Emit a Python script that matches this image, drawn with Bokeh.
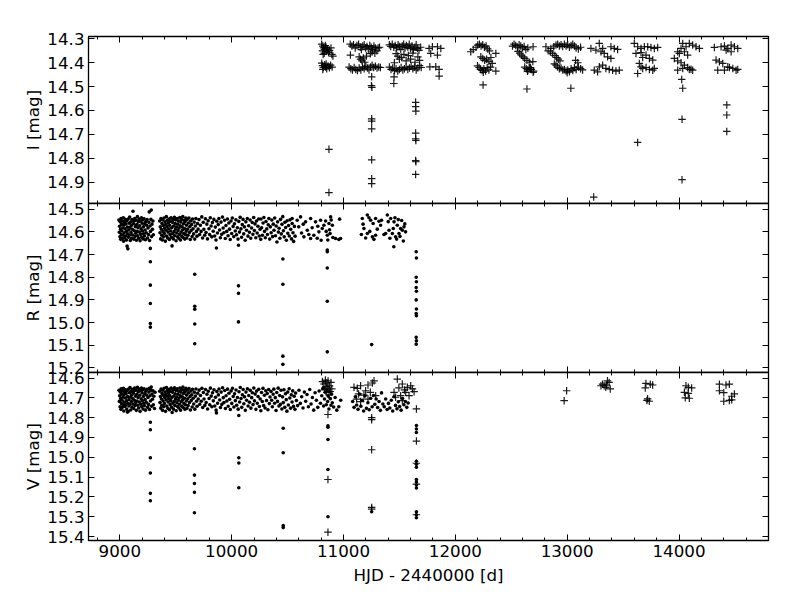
from bokeh.plotting import figure
from bokeh.layouts import column
from bokeh.models import Range1d, LinearAxis, FixedTicker, PrintfTickFormatter
from bokeh.embed import file_html
from bokeh.resources import INLINE

# ---------------- data ----------------
X_LABEL = "HJD - 2440000 [d]"
X_MAJOR = [9000, 10000, 11000, 12000, 13000, 14000]
X_MINOR = [8800, 9200, 9400, 9600, 9800, 10200, 10400, 10600, 10800, 11200, 11400, 11600, 11800,
           12200, 12400, 12600, 12800, 13200, 13400, 13600, 13800, 14200, 14400, 14600, 14800]
I_TICKS = [14.3, 14.4, 14.5, 14.6, 14.7, 14.8, 14.9]
R_TICKS = [14.5, 14.6, 14.7, 14.8, 14.9, 15.0, 15.1, 15.2]
V_TICKS = [14.6, 14.7, 14.8, 14.9, 15.0, 15.1, 15.2, 15.3, 15.4]

# I band (plus markers)
I_S1 = [(10805,14.322),(10815,14.330),(10822,14.338),(10830,14.345),(10812,14.350),(10838,14.328),(10845,14.335),
        (10850,14.352),(10858,14.342),(10866,14.358),(10875,14.348),(10888,14.338),(10896,14.365),(10905,14.372),
        (10828,14.360),(10818,14.365),(10805,14.402),(10812,14.412),(10820,14.420),(10832,14.408),(10840,14.418),
        (10850,14.425),(10862,14.414),(10874,14.421),(10885,14.410),(10898,14.418),(10815,14.428),(10845,14.405),
        (10870,14.763),(10870,14.944)]
I_S2 = [(11060,14.322),(11075,14.330),(11090,14.325),(11105,14.338),(11120,14.328),(11135,14.322),(11150,14.335),
        (11160,14.345),(11172,14.330),(11185,14.325),(11198,14.338),(11210,14.332),(11222,14.342),(11235,14.328),
        (11248,14.335),(11260,14.345),(11272,14.330),(11285,14.338),(11298,14.350),(11310,14.338),(11322,14.335),
        (11255,14.355),(11240,14.362),(11280,14.360),(11062,14.368),(11140,14.375),(11152,14.385),(11165,14.392),
        (11178,14.380),(11190,14.398),(11205,14.372),(11050,14.418),(11065,14.425),(11080,14.430),(11095,14.420),
        (11110,14.428),(11125,14.433),(11140,14.422),(11155,14.430),(11170,14.418),(11185,14.425),(11200,14.415),
        (11215,14.422),(11228,14.430),(11242,14.418),(11256,14.410),(11270,14.420),(11285,14.415),(11300,14.422),
        (11315,14.418),(11330,14.420),(11252,14.459),(11250,14.496),(11254,14.503),(11252,14.635),(11252,14.645),
        (11252,14.677),(11252,14.807),(11252,14.886),(11252,14.907)]
I_S3 = [(11410,14.325),(11422,14.332),(11436,14.322),(11450,14.335),(11462,14.328),(11475,14.338),(11488,14.325),
        (11500,14.332),(11512,14.345),(11525,14.330),(11538,14.322),(11550,14.338),(11562,14.328),(11575,14.335),
        (11588,14.322),(11600,14.340),(11612,14.330),(11625,14.345),(11638,14.335),(11650,14.325),(11662,14.340),
        (11675,14.348),(11690,14.335),(11470,14.362),(11485,14.372),(11500,14.385),(11520,14.378),(11540,14.365),
        (11560,14.392),(11580,14.370),(11600,14.385),(11620,14.360),(11640,14.398),(11665,14.375),(11680,14.390),
        (11455,14.400),(11410,14.418),(11425,14.428),(11440,14.422),(11455,14.432),(11470,14.425),(11485,14.435),
        (11500,14.428),(11515,14.420),(11530,14.430),(11545,14.425),(11560,14.418),(11575,14.428),(11590,14.422),
        (11605,14.415),(11620,14.425),(11635,14.418),(11650,14.430),(11665,14.422),(11680,14.412),(11695,14.420),
        (11452,14.459),(11450,14.487),(11645,14.566),(11645,14.584),(11647,14.603),(11645,14.695),(11645,14.719),
        (11647,14.726),(11645,14.810),(11647,14.815),(11645,14.868)]
I_S4 = [(11765,14.340),(11795,14.333),(11840,14.333),(11870,14.340),(11780,14.361),(11840,14.368),(11772,14.417),
        (11825,14.417),(11855,14.428),(11855,14.456)]
I_S5 = [(12138,14.354),(12160,14.345),(12185,14.335),(12200,14.326),(12215,14.322),(12230,14.330),(12245,14.325),
        (12260,14.335),(12275,14.330),(12290,14.342),(12305,14.350),(12362,14.361),(12228,14.375),(12245,14.382),
        (12262,14.390),(12280,14.385),(12300,14.395),(12318,14.378),(12330,14.403),(12198,14.413),(12212,14.420),
        (12225,14.428),(12240,14.432),(12255,14.425),(12270,14.435),(12285,14.420),(12300,14.430),(12315,14.418),
        (12362,14.435),(12250,14.440),(12248,14.493)]
I_S6 = [(12511,14.330),(12525,14.322),(12540,14.328),(12555,14.335),(12570,14.325),(12585,14.330),(12600,14.338),
        (12615,14.332),(12630,14.345),(12648,14.338),(12560,14.352),(12575,14.360),(12590,14.368),(12605,14.375),
        (12620,14.382),(12640,14.390),(12660,14.398),(12695,14.333),(12693,14.395),(12695,14.440),(12620,14.418),
        (12635,14.425),(12650,14.430),(12665,14.422),(12680,14.428),(12700,14.435),(12645,14.436),(12672,14.420),
        (12640,14.510)]
I_S7 = [(12830,14.350),(12854,14.340),(12880,14.333),(12900,14.326),(12915,14.322),(12930,14.330),(12945,14.325),
        (12960,14.332),(12975,14.322),(12990,14.330),(13005,14.325),(13020,14.335),(13035,14.328),(13050,14.322),
        (13065,14.330),(13080,14.338),(13100,14.342),(13120,14.335),(12810,14.333),(12850,14.355),(12870,14.362),
        (12890,14.370),(12905,14.378),(12920,14.385),(12935,14.392),(12885,14.405),(13095,14.400),(13075,14.390),
        (12900,14.410),(12915,14.418),(12930,14.425),(12945,14.422),(12960,14.430),(12975,14.428),(12990,14.435),
        (13005,14.430),(13020,14.438),(13035,14.425),(13050,14.433),(13065,14.420),(13080,14.428),(13100,14.418),
        (13120,14.425),(13138,14.430),(13000,14.442),(13033,14.507)]
I_S8 = [(13212,14.340),(13257,14.347),(13287,14.319),(13302,14.354),(13317,14.340),(13391,14.333),(13421,14.340),
        (13451,14.344),(13331,14.361),(13361,14.375),(13391,14.382),(13242,14.431),(13287,14.417),(13317,14.410),
        (13346,14.424),(13376,14.428),(13406,14.431),(13436,14.435),(13466,14.431),(13272,14.438),(13237,14.963)]
I_S9 = [(13600,14.319),(13630,14.333),(13660,14.340),(13690,14.333),(13720,14.333),(13749,14.336),(13779,14.340),
        (13809,14.336),(13615,14.361),(13660,14.358),(13705,14.368),(13735,14.382),(13765,14.389),(13675,14.378),
        (13645,14.403),(13660,14.417),(13675,14.424),(13705,14.420),(13735,14.428),(13765,14.431),(13779,14.424),
        (13630,14.445),(13630,14.734)]
I_S10 = [(13988,14.354),(14018,14.340),(14033,14.319),(14063,14.333),(14092,14.319),(14122,14.326),(14152,14.333),
         (14182,14.340),(14003,14.361),(14048,14.354),(14077,14.368),(13958,14.382),(13988,14.392),(14018,14.400),
         (14048,14.410),(14077,14.420),(14107,14.427),(13988,14.431),(14033,14.424),(14092,14.428),(14122,14.431),
         (14024,14.470),(14033,14.507),(14027,14.637),(14027,14.890)]
I_S11 = [(14316,14.336),(14376,14.333),(14406,14.330),(14436,14.340),(14466,14.326),(14495,14.333),(14525,14.340),
         (14421,14.347),(14466,14.354),(14331,14.389),(14361,14.396),(14391,14.403),(14436,14.417),(14346,14.431),
         (14406,14.431),(14451,14.420),(14481,14.424),(14510,14.431),(14525,14.428),(14427,14.577),(14427,14.619),
         (14427,14.688)]

# R band (dots)
R_B1 = [(8992,14.548),(8995,14.602),(8998,14.575),(9001,14.622),(9003,14.556),(9006,14.589),(9008,14.633),(9011,14.541),
        (9013,14.612),(9016,14.567),(9018,14.596),(9021,14.629),(9023,14.552),(9026,14.583),(9029,14.615),(9031,14.538),
        (9034,14.641),(9036,14.571),(9039,14.604),(9042,14.559),(9044,14.627),(9047,14.586),(9050,14.545),(9052,14.618),
        (9055,14.565),(9058,14.598),(9060,14.636),(9063,14.551),(9065,14.663),(9068,14.579),(9070,14.609),(9072,14.675),
        (9075,14.543),(9078,14.624),(9080,14.592),(9083,14.562),(9086,14.615),(9088,14.535),(9091,14.581),(9094,14.638),
        (9097,14.557),(9100,14.603),(9103,14.572),(9106,14.628),(9109,14.546),(9112,14.589),(9115,14.614),(9118,14.509),
        (9121,14.564),(9124,14.632),(9127,14.553),(9130,14.595),(9133,14.541),(9136,14.621),(9139,14.577),(9142,14.606),
        (9145,14.549),(9148,14.637),(9151,14.568),(9154,14.598),(9157,14.533),(9160,14.617),(9163,14.582),(9166,14.556),
        (9169,14.628),(9172,14.544),(9175,14.601),(9178,14.573),(9181,14.639),(9184,14.552),(9187,14.611),(9190,14.587),
        (9193,14.538),(9196,14.624),(9199,14.562),(9202,14.596),(9205,14.548),(9208,14.631),(9211,14.578),(9214,14.609),
        (9217,14.542),(9220,14.618),(9223,14.565),(9226,14.592),(9229,14.635),(9232,14.555),(9236,14.604),(9240,14.571),
        (9244,14.546),(9248,14.627),(9252,14.583),(9256,14.612),(9260,14.558),(9263,14.512),(9266,14.638),(9270,14.574),
        (9274,14.598),(9278,14.545),(9281,14.504),(9284,14.621),(9288,14.566),(9292,14.589),(9296,14.552),(9300,14.613)]
R_B2 = [(9356,14.552),(9359,14.604),(9362,14.578),(9365,14.631),(9368,14.541),(9371,14.589),(9374,14.615),(9377,14.563),
        (9380,14.636),(9383,14.547),(9386,14.598),(9389,14.572),(9392,14.622),(9395,14.539),(9398,14.607),(9401,14.584),
        (9404,14.556),(9407,14.641),(9410,14.568),(9413,14.593),(9416,14.533),(9419,14.618),(9422,14.576),(9425,14.549),
        (9428,14.627),(9431,14.601),(9434,14.561),(9437,14.586),(9440,14.543),(9443,14.634),(9446,14.571),(9449,14.612),
        (9452,14.553),(9455,14.596),(9458,14.538),(9461,14.624),(9464,14.582),(9467,14.662),(9470,14.558),(9473,14.608),
        (9476,14.545),(9479,14.631),(9482,14.574),(9485,14.599),(9488,14.536),(9491,14.617),(9494,14.563),(9497,14.588),
        (9500,14.548),(9503,14.639),(9506,14.579),(9509,14.605),(9512,14.541),(9515,14.622),(9518,14.566),(9521,14.594),
        (9524,14.552),(9527,14.628),(9530,14.583),(9533,14.611),(9536,14.537),(9539,14.573),(9542,14.636),(9545,14.557),
        (9548,14.601),(9551,14.545),(9554,14.619),(9557,14.578),(9560,14.592),(9563,14.533),(9566,14.625),(9569,14.564),
        (9572,14.607),(9575,14.549),(9578,14.585),(9581,14.632),(9584,14.556),(9587,14.612),(9590,14.539),(9593,14.597),
        (9596,14.571),(9599,14.627),(9602,14.546),(9606,14.588),(9610,14.615),(9614,14.561),(9618,14.539),(9622,14.603),
        (9626,14.577),(9630,14.634),(9634,14.552),(9638,14.594),(9642,14.568),(9646,14.621),(9650,14.543),(9655,14.586),
        (9660,14.609),(9665,14.557),(9670,14.632),(9675,14.574),(9680,14.541),(9685,14.598),(9690,14.619),(9695,14.563),
        (9700,14.588)]
R_B3 = [(9708,14.546),(9714,14.612),(9720,14.571),(9727,14.598),(9733,14.534),(9740,14.627),(9746,14.558),(9752,14.589),
        (9759,14.615),(9765,14.542),(9771,14.603),(9778,14.566),(9784,14.631),(9790,14.551),(9797,14.586),(9803,14.612),
        (9809,14.538),(9816,14.574),(9822,14.622),(9828,14.559),(9835,14.597),(9841,14.545),(9848,14.618),(9854,14.579),
        (9860,14.636),(9864,14.671),(9867,14.553),(9873,14.605),(9880,14.568),(9886,14.541),(9892,14.592),(9899,14.626),
        (9905,14.557),(9911,14.611),(9918,14.535),(9924,14.583),(9930,14.604),(9937,14.549),(9943,14.629),(9949,14.572),
        (9956,14.598),(9962,14.543),(9968,14.617),(9975,14.561),(9981,14.588),(9987,14.634),(9994,14.552),(10000,14.607),
        (10006,14.539),(10013,14.576),(10019,14.621),(10025,14.564),(10032,14.596),(10038,14.547),(10044,14.613),
        (10051,14.582),(10057,14.632),(10061,14.659),(10064,14.554),(10070,14.601),(10076,14.536),(10083,14.587),
        (10089,14.624),(10095,14.568),(10102,14.545),(10108,14.609),(10114,14.578),(10121,14.637),(10127,14.556),
        (10133,14.593),(10140,14.541),(10146,14.619),(10152,14.573),(10159,14.602),(10165,14.548),(10171,14.628),
        (10178,14.583),(10184,14.559),(10190,14.611),(10197,14.537),(10203,14.594),(10209,14.565),(10216,14.626),
        (10222,14.552),(10228,14.605),(10235,14.575),(10241,14.543),(10247,14.618),(10254,14.589),(10260,14.633)]
R_B4 = [(10262,14.543),(10268,14.582),(10275,14.615),(10281,14.561),(10288,14.537),(10294,14.598),(10301,14.626),
        (10307,14.554),(10314,14.587),(10320,14.612),(10327,14.569),(10333,14.541),(10340,14.632),(10346,14.578),
        (10353,14.604),(10359,14.548),(10366,14.621),(10372,14.566),(10379,14.593),(10385,14.539),(10392,14.617),
        (10398,14.574),(10405,14.645),(10411,14.556),(10418,14.601),(10424,14.584),(10431,14.628),(10437,14.545),
        (10444,14.609),(10450,14.567),(10457,14.533),(10463,14.595),(10470,14.622),(10476,14.558),(10483,14.581),
        (10489,14.637),(10496,14.551),(10502,14.606),(10509,14.572),(10515,14.618),(10522,14.547),(10528,14.589),
        (10535,14.631),(10541,14.563),(10548,14.604),(10554,14.642),(10561,14.576),(10567,14.619)]
R_B5 = [(10541,14.541),(10586,14.549),(10616,14.534),(10661,14.556),(10706,14.541),(10750,14.556),(10795,14.549),
        (10825,14.571),(10676,14.593),(10646,14.622),(10706,14.629),(10735,14.615),(10780,14.600),(10810,14.585),
        (10855,14.615),(10885,14.534),(10900,14.571),(10929,14.629),(10965,14.544),(10974,14.629),(10600,14.578),
        (10625,14.605),(10640,14.566),(10690,14.612),(10720,14.582),(10765,14.628),(10770,14.575),(10800,14.637),
        (10840,14.552),(10845,14.598),(10860,14.636),(10870,14.563),(10875,14.591),(10880,14.607),(10890,14.548),
        (10905,14.625),(10958,14.634)]
R_B6 = [(11168,14.541),(11213,14.526),(11243,14.549),(11287,14.541),(11317,14.553),(11183,14.585),(11213,14.607),
        (11258,14.622),(11287,14.615),(11392,14.526),(11422,14.541),(11452,14.556),(11481,14.571),(11511,14.585),
        (11526,14.593),(11407,14.593),(11437,14.607),(11466,14.622),(11496,14.607),(11541,14.578),(11377,14.607),
        (11332,14.571),(11160,14.612),(11175,14.566),(11198,14.627),(11228,14.538),(11235,14.598),(11265,14.563),
        (11272,14.633),(11302,14.588),(11340,14.549),(11362,14.612),(11400,14.555),(11415,14.628),(11445,14.585),
        (11460,14.538),(11475,14.632),(11490,14.546),(11505,14.620),(11520,14.550),(11535,14.640),(11548,14.565),
        (11555,14.600)]
R_OUT = [(9273,14.673),(9273,14.732),(9273,14.835),(9273,14.916),(9273,15.004),(9273,15.020),
         (9670,14.787),(9670,14.928),(9670,14.941),(9670,15.006),(9670,15.093),
         (10061,14.838),(10061,14.871),(10061,14.997),
         (10458,14.720),(10458,14.831),(10458,15.148),(10458,15.184),
         (10855,14.680),(10855,14.688),(10855,14.759),(10855,14.906),(10855,15.129),
         (11252,15.097),(11450,14.666),
         (11650,14.688),(11652,14.715),(11650,14.800),(11652,14.820),(11650,14.845),(11652,14.862),(11650,14.900),
         (11652,14.940),(11650,14.960),(11652,14.970),(11650,15.065),(11652,15.080),(11650,15.095)]

# V band (dots)
V_B1 = [(8993,14.662),(8996,14.718),(8999,14.689),(9002,14.745),(9004,14.671),(9007,14.703),(9010,14.758),(9012,14.654),
        (9015,14.729),(9017,14.681),(9020,14.712),(9023,14.748),(9025,14.665),(9028,14.697),(9031,14.736),(9033,14.652),
        (9036,14.766),(9038,14.684),(9041,14.722),(9044,14.671),(9046,14.743),(9049,14.701),(9052,14.659),(9054,14.735),
        (9057,14.678),(9060,14.715),(9062,14.757),(9065,14.663),(9068,14.772),(9070,14.694),(9073,14.727),(9075,14.769),
        (9078,14.656),(9081,14.741),(9083,14.708),(9086,14.674),(9089,14.733),(9091,14.648),(9094,14.696),(9097,14.761),
        (9100,14.668),(9103,14.719),(9106,14.686),(9109,14.747),(9112,14.657),(9115,14.703),(9118,14.731),(9121,14.676),
        (9124,14.754),(9127,14.664),(9130,14.712),(9133,14.651),(9136,14.739),(9139,14.691),(9142,14.724),(9145,14.661),
        (9148,14.763),(9151,14.682),(9154,14.716),(9157,14.647),(9160,14.737),(9163,14.698),(9166,14.669),(9169,14.751),
        (9172,14.655),(9175,14.721),(9178,14.687),(9181,14.768),(9184,14.663),(9187,14.731),(9190,14.705),(9193,14.650),
        (9196,14.744),(9199,14.675),(9202,14.714),(9205,14.659),(9208,14.756),(9211,14.693),(9214,14.728),(9217,14.654),
        (9220,14.739),(9223,14.679),(9226,14.709),(9229,14.762),(9232,14.667),(9236,14.722),(9240,14.686),(9244,14.657),
        (9248,14.748),(9252,14.698),(9256,14.733),(9260,14.671),(9264,14.652),(9266,14.759),(9270,14.689),(9274,14.716),
        (9278,14.661),(9281,14.645),(9284,14.742),(9288,14.681),(9292,14.707),(9296,14.664),(9300,14.735),(9305,14.692),
        (9310,14.754),(9315,14.672)]
V_B2 = [(9357,14.667),(9360,14.724),(9363,14.693),(9366,14.752),(9369,14.655),(9372,14.706),(9375,14.738),(9378,14.678),
        (9381,14.763),(9384,14.661),(9387,14.716),(9390,14.687),(9393,14.745),(9396,14.652),(9399,14.729),(9402,14.699),
        (9405,14.671),(9408,14.768),(9411,14.683),(9414,14.711),(9417,14.648),(9420,14.741),(9423,14.692),(9426,14.663),
        (9429,14.753),(9432,14.721),(9435,14.676),(9438,14.704),(9441,14.657),(9444,14.760),(9447,14.688),(9450,14.733),
        (9453,14.668),(9456,14.714),(9459,14.651),(9462,14.747),(9465,14.698),(9468,14.774),(9471,14.672),(9474,14.727),
        (9477,14.659),(9480,14.757),(9483,14.691),(9486,14.718),(9489,14.649),(9492,14.739),(9495,14.679),(9498,14.706),
        (9501,14.662),(9504,14.765),(9507,14.696),(9510,14.725),(9513,14.654),(9516,14.744),(9519,14.682),(9522,14.712),
        (9525,14.667),(9528,14.751),(9531,14.701),(9534,14.732),(9537,14.650),(9540,14.688),(9543,14.762),(9546,14.671),
        (9549,14.719),(9552,14.658),(9555,14.742),(9558,14.695),(9561,14.710),(9564,14.646),(9567,14.749),(9570,14.678),
        (9573,14.728),(9576,14.663),(9579,14.702),(9582,14.758),(9585,14.669),(9588,14.735),(9591,14.652),(9594,14.716),
        (9597,14.686),(9600,14.753),(9603,14.660),(9607,14.705),(9611,14.739),(9615,14.675),(9619,14.653),(9623,14.723),
        (9627,14.694),(9631,14.761),(9635,14.666),(9639,14.713),(9643,14.684),(9647,14.746),(9651,14.657),(9656,14.702),
        (9661,14.731),(9666,14.672),(9671,14.757),(9676,14.691),(9681,14.655),(9686,14.717),(9691,14.742),(9696,14.677),
        (9701,14.706)]
V_B3 = [(9709,14.661),(9715,14.732),(9721,14.688),(9728,14.717),(9734,14.652),(9741,14.749),(9747,14.673),(9753,14.706),
        (9760,14.738),(9766,14.658),(9772,14.724),(9779,14.682),(9785,14.756),(9791,14.667),(9798,14.703),(9804,14.735),
        (9810,14.651),(9817,14.691),(9823,14.745),(9829,14.674),(9836,14.715),(9842,14.659),(9849,14.741),(9855,14.697),
        (9861,14.762),(9864,14.776),(9868,14.668),(9874,14.727),(9881,14.685),(9887,14.655),(9893,14.711),(9900,14.749),
        (9906,14.671),(9912,14.733),(9919,14.649),(9925,14.699),(9931,14.724),(9938,14.663),(9944,14.754),(9950,14.689),
        (9957,14.716),(9963,14.656),(9969,14.742),(9976,14.677),(9982,14.707),(9988,14.759),(9995,14.665),(10001,14.728),
        (10007,14.652),(10014,14.693),(10020,14.746),(10026,14.679),(10033,14.714),(10039,14.660),(10045,14.737),
        (10052,14.698),(10058,14.757),(10064,14.789),(10066,14.669),(10071,14.721),(10077,14.648),(10084,14.703),
        (10090,14.748),(10096,14.684),(10103,14.658),(10109,14.730),(10115,14.695),(10122,14.763),(10128,14.671),
        (10134,14.712),(10141,14.654),(10147,14.741),(10153,14.688),(10160,14.722),(10166,14.662),(10172,14.752),
        (10179,14.699),(10185,14.674),(10191,14.734),(10198,14.650),(10204,14.715),(10210,14.681),(10217,14.758),
        (10223,14.666),(10229,14.727),(10236,14.693),(10242,14.657),(10248,14.744),(10255,14.706),(10261,14.765),
        (10267,14.673),(10274,14.718),(10280,14.652),(10286,14.739),(10293,14.687),(10299,14.751),(10305,14.664),
        (10312,14.713),(10318,14.678),(10324,14.760),(10331,14.658),(10337,14.729),(10343,14.696)]
V_B4 = [(10352,14.668),(10358,14.712),(10364,14.745),(10371,14.682),(10377,14.656),(10384,14.727),(10390,14.699),
        (10397,14.764),(10403,14.673),(10410,14.718),(10416,14.651),(10423,14.741),(10429,14.688),(10436,14.733),
        (10442,14.662),(10449,14.756),(10455,14.695),(10462,14.724),(10468,14.659),(10475,14.748),(10481,14.679),
        (10488,14.709),(10494,14.767),(10501,14.671),(10507,14.736),(10514,14.654),(10520,14.701),(10527,14.752),
        (10533,14.684),(10540,14.721),(10546,14.665),(10553,14.743),(10559,14.692),(10566,14.758),(10572,14.676),
        (10579,14.713),(10590,14.739),(10602,14.662),(10614,14.728),(10626,14.694),(10638,14.751),(10650,14.671),
        (10662,14.717),(10674,14.683),(10686,14.745),(10698,14.658),(10710,14.731),(10722,14.698),(10734,14.762),
        (10746,14.674),(10758,14.712),(10770,14.748),(10782,14.665),(10794,14.727),(10806,14.689),(10815,14.653),
        (10822,14.741),(10830,14.706),(10838,14.672),(10846,14.735),(10852,14.659),(10858,14.718),(10864,14.692),
        (10870,14.756),(10876,14.668),(10882,14.704),(10888,14.737),(10894,14.681),(10900,14.725),(10912,14.746),
        (10925,14.698),(10940,14.762),(10958,14.745),(10975,14.712)]
V_B5 = [(11082,14.718),(11094,14.748),(11106,14.695),(11118,14.736),(11130,14.758),(11142,14.681),(11155,14.742),
        (11168,14.712),(11180,14.766),(11192,14.690),(11205,14.753),(11218,14.725),(11230,14.760),(11243,14.702),
        (11256,14.745),(11268,14.688),(11280,14.732),(11292,14.706),(11305,14.749),(11318,14.718),(11330,14.763),
        (11340,14.675),(11352,14.731),(11364,14.745),(11377,14.706),(11390,14.759),(11402,14.728),(11414,14.751),
        (11427,14.712),(11440,14.766),(11452,14.694),(11465,14.738),(11478,14.755),(11490,14.720),(11502,14.744),
        (11515,14.762),(11528,14.703),(11540,14.735),(11553,14.718),(11566,14.748),(11578,14.726)]
V_DOT_OUT = [(9273,14.823),(9273,14.861),(9273,15.002),(9273,15.079),(9273,15.182),(9273,15.219),
             (9667,14.957),(9667,15.090),(9667,15.132),(9667,15.177),(9667,15.280),
             (10064,15.002),(10064,15.029),(10064,15.154),
             (10461,14.853),(10461,14.977),(10461,15.345),(10461,15.355),
             (10861,14.841),(10861,14.848),(10861,14.910),(10861,15.062),(10861,15.300),
             (11252,15.275),
             (11652,14.840),(11652,14.857),(11652,14.875),(11652,15.020),(11652,15.035),(11652,15.050),
             (11652,15.112),(11652,15.125),(11652,15.140),(11652,15.155),(11652,15.275),(11652,15.290),(11652,15.305)]
# V band (plus markers)
V_PLUS = [(10812,14.618),(10825,14.630),(10838,14.610),(10850,14.625),(10862,14.615),(10875,14.640),(10888,14.622),
          (10895,14.655),(10830,14.660),(10850,14.672),(10870,14.685),(10882,14.668),(10860,14.650),(10842,14.642),
          (10861,14.784),(10861,15.112),(10861,15.378),
          (11094,14.647),(11123,14.652),(11153,14.639),(11198,14.664),(11219,14.635),(11258,14.625),(11273,14.614),
          (11183,14.686),(11219,14.706),(11153,14.719),(11117,14.706),(11288,14.689),(11240,14.672),(11135,14.680),
          (11252,14.800),(11252,14.810),(11252,14.962),(11252,15.253),(11252,15.262),
          (11481,14.605),(11526,14.630),(11571,14.647),(11601,14.639),(11616,14.655),(11556,14.672),(11586,14.689),
          (11511,14.689),(11466,14.697),(11452,14.672),(11631,14.669),(11526,14.714),(11545,14.660),(11495,14.650),
          (11652,14.756),(11652,14.918),(11652,15.030),(11652,15.135),(11652,15.290),
          (12973,14.714),(12995,14.664),
          (13302,14.639),(13330,14.639),(13345,14.647),(13360,14.614),(13375,14.622),(13385,14.655),(13316,14.631),
          (13352,14.635),
          (13704,14.627),(13743,14.631),(13764,14.635),(13698,14.650),(13719,14.705),(13734,14.717),(13713,14.713),
          (14062,14.639),(14083,14.647),(14113,14.650),(14048,14.672),(14083,14.677),(14056,14.700),(14092,14.702),
          (14361,14.631),(14420,14.635),(14450,14.631),(14361,14.664),(14400,14.674),(14495,14.680),(14471,14.692),
          (14400,14.717),(14450,14.713),(14471,14.710)]

I_ALL = I_S1 + I_S2 + I_S3 + I_S4 + I_S5 + I_S6 + I_S7 + I_S8 + I_S9 + I_S10 + I_S11
R_ALL = R_B1 + R_B2 + R_B3 + R_B4 + R_B5 + R_B6 + R_OUT
V_DOTS = V_B1 + V_B2 + V_B3 + V_B4 + V_B5 + V_DOT_OUT

# ---------------- styling ----------------
FONT = "DejaVu Sans"
FS = "16.7px"
PAD = 12  # transparent overflow room between stacked panels
shared_x = Range1d(8720, 14800)


def unzip(pts):
    return [p[0] for p in pts], [p[1] for p in pts]


def tick_style(ax, show_labels):
    ax.axis_line_color = None
    ax.major_tick_in = 6
    ax.major_tick_out = 0
    ax.minor_tick_in = 3
    ax.minor_tick_out = 0
    ax.major_tick_line_color = "black"
    ax.minor_tick_line_color = "black"
    ax.major_tick_line_width = 1
    ax.minor_tick_line_width = 1
    if show_labels:
        ax.major_label_text_font = FONT
        ax.major_label_text_font_size = FS
        ax.major_label_text_color = "black"
        ax.major_label_standoff = 4
    else:
        ax.major_label_text_font_size = "0px"
        ax.major_label_text_color = None
        ax.major_label_standoff = 0


def panel(ylo, yhi, yticks, ylabel, frame_h, top, bottom, xlabels, margin):
    p = figure(frame_width=680, frame_height=frame_h, x_range=shared_x, y_range=Range1d(yhi, ylo),
               x_axis_location=None, y_axis_location=None, output_backend="svg", toolbar_location=None,
               min_border_left=88, min_border_right=30, min_border_top=top, min_border_bottom=bottom,
               margin=margin)
    p.grid.grid_line_color = None
    p.outline_line_color = "black"
    p.outline_line_width = 1.3
    p.background_fill_color = "white"
    p.border_fill_color = None

    xt = FixedTicker(ticks=X_MAJOR, minor_ticks=X_MINOR)
    yt = FixedTicker(ticks=yticks, minor_ticks=[])

    left = LinearAxis(ticker=yt, formatter=PrintfTickFormatter(format="%.1f"))
    tick_style(left, True)
    left.axis_label = ylabel
    left.axis_label_text_font = FONT
    left.axis_label_text_font_size = FS
    left.axis_label_text_font_style = "normal"
    left.axis_label_text_color = "black"
    left.axis_label_standoff = 1
    p.add_layout(left, "left")

    right = LinearAxis(ticker=yt)
    tick_style(right, False)
    p.add_layout(right, "right")

    above = LinearAxis(ticker=xt)
    tick_style(above, False)
    p.add_layout(above, "above")

    below = LinearAxis(ticker=xt)
    tick_style(below, xlabels)
    if xlabels:
        below.axis_label = X_LABEL
        below.axis_label_text_font = FONT
        below.axis_label_text_font_size = FS
        below.axis_label_text_font_style = "normal"
        below.axis_label_text_color = "black"
        below.axis_label_standoff = 5
    p.add_layout(below, "below")
    return p


p1 = panel(14.29, 14.99, I_TICKS, "I [mag]", 167, 36, PAD, False, (0, 0, 0, 0))
x, y = unzip(I_ALL)
p1.scatter(x, y, marker="cross", size=7.5, line_color="black", line_width=1.2, line_alpha=0.9)

p2 = panel(14.475, 15.22, R_TICKS, "R [mag]", 169, PAD, PAD, False, (-2 * PAD, 0, 0, 0))
x, y = unzip(R_ALL)
p2.scatter(x, y, marker="circle", size=3.6, fill_color="black", line_color=None)

p3 = panel(14.572, 15.42, V_TICKS, "V [mag]", 168, PAD, 58, True, (-2 * PAD, 0, 0, 0))
x, y = unzip(V_DOTS)
p3.scatter(x, y, marker="circle", size=3.6, fill_color="black", line_color=None)
x, y = unzip(V_PLUS)
p3.scatter(x, y, marker="cross", size=7.5, line_color="black", line_width=1.2, line_alpha=0.9)

layout = column(p1, p2, p3)

open("out.html", "w").write(file_html(layout, INLINE))
